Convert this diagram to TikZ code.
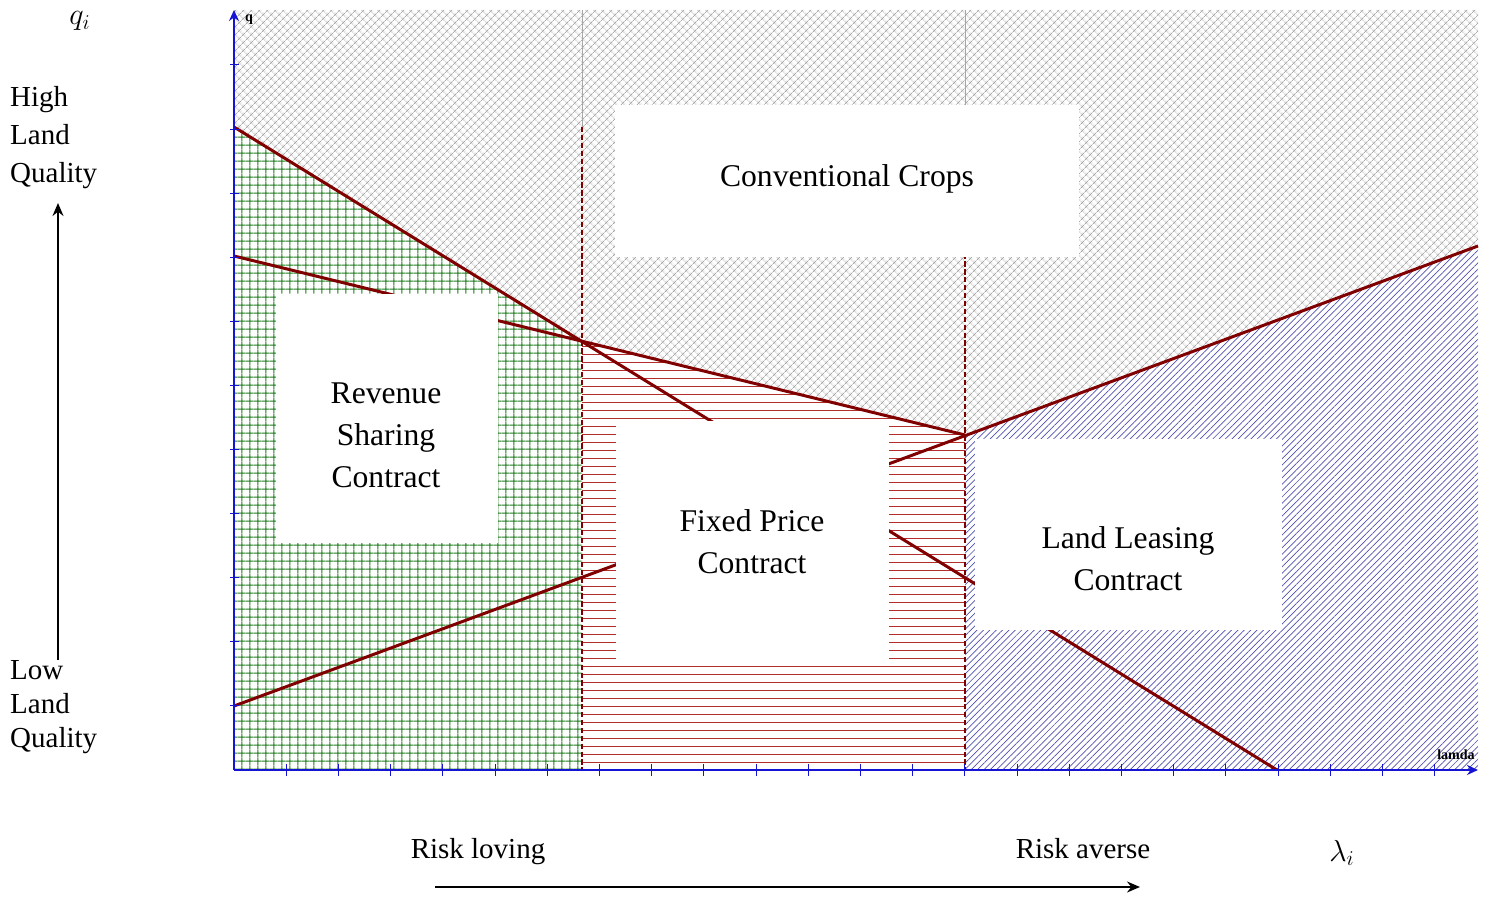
\documentclass[tikz,border=0pt]{standalone}
\usepackage{fontspec}
\setmainfont{Liberation Serif}
\usetikzlibrary{patterns.meta,arrows.meta}
\definecolor{curvered}{RGB}{128,0,0}
\definecolor{axisblue}{RGB}{20,20,210}
\definecolor{gridgreen}{RGB}{30,125,30}
\definecolor{hatchred}{RGB}{180,45,45}
\definecolor{hatchblue}{RGB}{80,80,175}
\definecolor{hatchgrey}{RGB}{170,170,170}
\begin{document}
\begin{tikzpicture}[x=0.02cm,y=-0.02cm,
  curve/.style={curvered,line width=1.7pt},
  border/.style={curvered,line width=0.7pt,dash pattern=on 3pt off 1.5pt},
  axisline/.style={axisblue,line width=1.2pt},
  whitebox/.style={fill=white,inner sep=0pt},
  boxtext/.style={align=center,font=\fontsize{18}{24}\selectfont},
  sidetext/.style={align=left,anchor=west,font=\fontsize{16.5}{21.6}\selectfont},
  bottomtext/.style={anchor=base,font=\fontsize{16.5}{20}\selectfont}]
\useasboundingbox (0,0) rectangle (1489,901);
% Corner points of the regions
\coordinate (origin) at (234,770);
\coordinate (y-top) at (234,10);
\coordinate (x-end) at (1478,770);
\coordinate (q-top) at (234,127);
\coordinate (flat-start) at (234,256);
\coordinate (rise-start) at (234,706);
\coordinate (cross-left) at (582,341);
\coordinate (cross-right) at (965,435);
\coordinate (steep-end) at (1277,770);
\coordinate (rise-end) at (1478,246);
% Hatched regions
\fill[pattern={Hatch[angle=45,distance=0.108cm,line width=0.5pt]},pattern color=hatchgrey]
  (y-top) -- (1478,10) -- (rise-end) -- (cross-right) -- (cross-left) -- (q-top) -- cycle;
\fill[pattern={Hatch[angle=0,distance=0.156cm,line width=0.6pt]},pattern color=gridgreen]
  (q-top) -- (cross-left) -- (582,770) -- (origin) -- cycle;
\begin{scope}
  \clip (cross-left) -- (cross-right) -- (965,770) -- (582,770) -- cycle;
  \foreach \k in {1,...,54} \draw[hatchred,line width=0.5pt] (582,{770-\k*8}) -- ++(383,0);
\end{scope}
\fill[pattern={Lines[angle=45,distance=0.09cm,line width=0.4pt]},pattern color=hatchblue]
  (cross-right) -- (rise-end) -- (x-end) -- (965,770) -- cycle;
% Region borders
\draw[gray!70,line width=0.4pt] (582,10) -- (582,127) (965,10) -- (965,127);
\draw[border] (582,127) -- (582,770);
\draw[border] (965,127) -- (965,770);
% Curves
\draw[curve] (q-top) -- (steep-end);
\draw[curve] (flat-start) -- (cross-right);
\draw[curve] (rise-start) -- (rise-end);
% Axes and ticks
\draw[axisline,-{Stealth[length=2.2mm,width=2mm]}] (origin) -- (y-top);
\draw[axisline,-{Stealth[length=2.2mm,width=2mm]}] (origin) -- (x-end);
\foreach \k in {1,...,23} \draw[axisline,line width=0.5pt] ({234+\k*52.2},764) -- ++(0,12);
\foreach \k in {1,...,11} \draw[axisline,line width=0.5pt] (230,{770-\k*64.1}) -- ++(9,0);
\node[font=\fontsize{8}{9}\selectfont\bfseries] (q-tag) at (249,20) {q};
\node[font=\fontsize{8}{9}\selectfont\bfseries] (lamda-tag) at (1456,755) {lamda};
% White boxes with names of regions
\node[whitebox,minimum width=9.28cm,minimum height=3.04cm] (crops-box) at (847,181) {};
\node[boxtext] (crops) at (847,179) {Conventional Crops};
\node[whitebox,minimum width=4.44cm,minimum height=4.98cm] (revenue-box) at (387,418.5) {};
\node[boxtext] (revenue) at (386,435) {Revenue\\Sharing\\Contract};
\node[whitebox,minimum width=5.46cm,minimum height=4.8cm] (fixed-box) at (752.5,541) {};
\node[boxtext] (fixed) at (752,542) {Fixed Price\\Contract};
\node[whitebox,minimum width=6.14cm,minimum height=3.82cm] (leasing-box) at (1128.5,534.5) {};
\node[boxtext] (leasing) at (1128,559) {Land Leasing\\Contract};
% Side labels
\node[font=\fontsize{17}{20}\selectfont] (q-label) at (80,21) {$q_i$};
\node[sidetext] (high) at (4,138) {High\\Land\\Quality};
\node[sidetext,font=\fontsize{16.5}{19.4}\selectfont] (low) at (4,707.5) {Low\\Land\\Quality};
\coordinate (up-from) at (58,660);
\coordinate (up-to) at (58,203);
\draw[-{Stealth[length=2.6mm,width=2.2mm]},line width=0.9pt] (up-from) -- (up-to);
% Bottom labels
\node[bottomtext] (loving) at (478,859) {Risk loving};
\node[bottomtext] (averse) at (1083,859) {Risk averse};
\node[font=\fontsize{17}{20}\selectfont] (lambda-label) at (1342,853) {$\lambda_i$};
\coordinate (right-from) at (435,887);
\coordinate (right-to) at (1140,887);
\draw[-{Stealth[length=2.6mm,width=2.2mm]},line width=0.9pt] (right-from) -- (right-to);
\end{tikzpicture}
\end{document}
